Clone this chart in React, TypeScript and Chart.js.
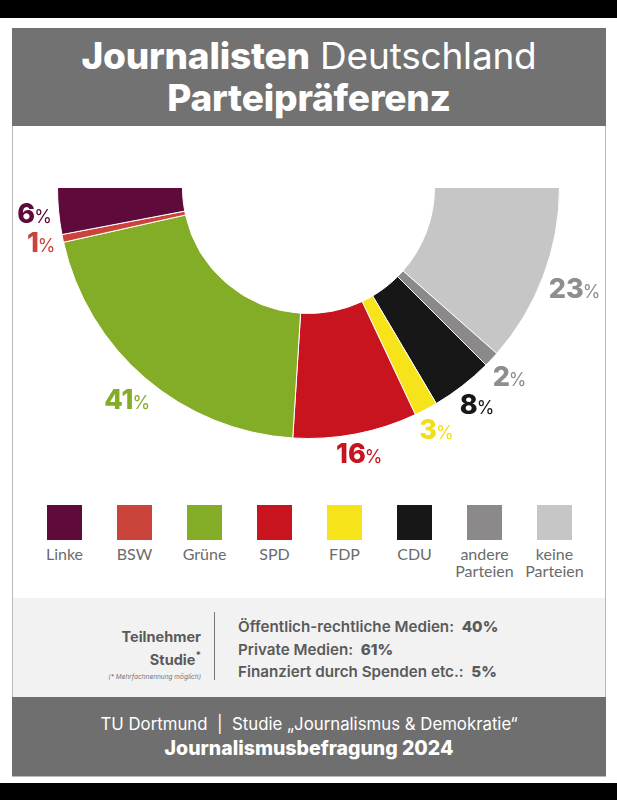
import React, { useEffect, useRef } from 'react';
import { Chart, registerables } from 'chart.js';

Chart.register(...registerables);

// ---------- data ----------
const categories = ['Linke', 'BSW', 'Grüne', 'SPD', 'FDP', 'CDU', 'andere Parteien', 'keine Parteien'];
const legendLines = [['Linke'], ['BSW'], ['Grüne'], ['SPD'], ['FDP'], ['CDU'], ['andere', 'Parteien'], ['keine', 'Parteien']];
const shares = [6, 1, 41, 16, 3, 8, 2, 23];
const sliceColors = ['#5e0a3b', '#cb443b', '#84ad27', '#c8141f', '#f6e31a', '#171717', '#8b8989', '#c6c6c6'];
const labelColors = ['#5e0a3b', '#cb443b', '#84ad27', '#c8141f', '#f2df18', '#171717', '#8e8e8e', '#8e8e8e'];
const studyLabels = ['Öffentlich-rechtliche Medien:', 'Private Medien:', 'Finanziert durch Spenden etc.:'];
const studyValues = [40, 61, 5];

// chart runs from the right (keine) clockwise through the bottom to the left (Linke)
const chartOrder = categories.map((_, i) => categories.length - 1 - i);

const BOLD = "'Inter', 'Noto Sans', sans-serif";
const LIGHT = "'Lato', 'Noto Sans', sans-serif";

const pctLabels = {
  id: 'pctLabels',
  afterDatasetsDraw(chart: any) {
    const ctx = chart.ctx;
    const meta = chart.getDatasetMeta(0);
    meta.data.forEach((arc: any, i: number) => {
      const idx = chartOrder[i];
      const p = arc.getProps(['x', 'y', 'startAngle', 'endAngle', 'outerRadius'], true);
      const mid = (p.startAngle + p.endAngle) / 2;
      const num = String(shares[idx]);
      ctx.save();
      ctx.font = `800 27px ${BOLD}`;
      const wn = ctx.measureText(num).width;
      ctx.font = `400 18px ${BOLD}`;
      const wp = ctx.measureText('%').width;
      const gap = -1;
      const w = wn + gap + wp;
      const h = 19;
      const c = Math.cos(mid);
      const s = Math.sin(mid);
      const r = p.outerRadius + 6 + Math.abs(c) * w / 2 + Math.abs(s) * h / 2;
      const cx = p.x + c * r;
      const cy = p.y + s * r;
      const bx = cx - w / 2;
      const by = cy + h / 2;
      ctx.fillStyle = labelColors[idx];
      ctx.textAlign = 'left';
      ctx.textBaseline = 'alphabetic';
      ctx.font = `800 27px ${BOLD}`;
      ctx.fillText(num, bx, by);
      ctx.font = `400 18px ${BOLD}`;
      ctx.fillText('%', bx + wn + gap, by);
      ctx.restore();
    });
  },
};

function HalfDonut() {
  const ref = useRef<HTMLCanvasElement | null>(null);
  useEffect(() => {
    if (!ref.current) return;
    const chart = new Chart(ref.current, {
      type: 'doughnut',
      data: {
        labels: chartOrder.map((i) => categories[i]),
        datasets: [
          {
            data: chartOrder.map((i) => shares[i]),
            backgroundColor: chartOrder.map((i) => sliceColors[i]),
            borderColor: '#ffffff',
            borderWidth: 1,
          },
        ],
      },
      options: {
        responsive: false,
        animation: false,
        rotation: 90,
        circumference: 180,
        radius: 251,
        cutout: '50.2%',
        layout: { padding: 0 },
        plugins: {
          legend: { display: false },
          tooltip: { enabled: false },
        },
        events: [],
      },
      plugins: [pctLabels],
    });
    return () => chart.destroy();
  }, []);
  return (
    <canvas
      ref={ref}
      width={617}
      height={340}
      style={{ position: 'absolute', left: 0, top: 143, width: 617, height: 340 }}
    />
  );
}

export default function App() {
  return (
    <div
      style={{
        position: 'absolute',
        left: 0,
        top: 0,
        width: 617,
        height: 800,
        background: '#ffffff',
        overflow: 'hidden',
      }}
    >
      {/* black bands */}
      <div style={{ position: 'absolute', left: 0, top: 0, width: 617, height: 18, background: '#000' }} />
      <div style={{ position: 'absolute', left: 0, top: 783, width: 617, height: 17, background: '#000' }} />

      {/* frame */}
      <div
        style={{
          position: 'absolute',
          left: 12,
          top: 28,
          width: 592,
          height: 747,
          border: '1px solid #b9b9b9',
          background: '#fff',
        }}
      />

      {/* header */}
      <div style={{ position: 'absolute', left: 12, top: 28, width: 594, height: 98, background: '#727272' }} />
      <div
        style={{
          position: 'absolute',
          left: 12,
          top: 35,
          width: 594,
          textAlign: 'center',
          color: '#fff',
          fontFamily: BOLD,
          fontSize: 37,
          lineHeight: '42px',
          letterSpacing: -0.2,
        }}
      >
        <div>
          <span style={{ fontWeight: 800 }}>Journalisten</span>
          <span style={{ fontWeight: 400 }}> Deutschland</span>
        </div>
        <div style={{ fontWeight: 800 }}>Parteipräferenz</div>
      </div>

      <HalfDonut />

      {/* legend */}
      <div style={{ position: 'absolute', left: 29.5, top: 505, display: 'flex' }}>
        {legendLines.map((lines, i) => (
          <div key={i} style={{ width: 70, display: 'flex', flexDirection: 'column', alignItems: 'center' }}>
            <div style={{ width: 35, height: 35, background: sliceColors[i] }} />
            <div
              style={{
                marginTop: 5,
                fontFamily: LIGHT,
                fontSize: 16,
                lineHeight: '17px',
                color: '#6b6b6b',
                textAlign: 'center',
                whiteSpace: 'nowrap',
              }}
            >
              {lines.map((l, k) => (
                <div key={k}>{l}</div>
              ))}
            </div>
          </div>
        ))}
      </div>

      {/* info box */}
      <div style={{ position: 'absolute', left: 13, top: 598, width: 592, height: 99, background: '#f2f2f2' }} />
      <div
        style={{
          position: 'absolute',
          left: 60,
          top: 627,
          width: 141,
          textAlign: 'right',
          fontFamily: BOLD,
          fontWeight: 700,
          fontSize: 14.5,
          lineHeight: '19px',
          color: '#5a5a5a',
        }}
      >
        <div>Teilnehmer</div>
        <div>
          Studie<span style={{ verticalAlign: 'super', fontSize: 10 }}>*</span>
        </div>
        <div style={{ fontSize: 6.5, fontWeight: 400, fontStyle: 'italic', lineHeight: '12px', marginTop: 2, color: '#777' }}>
          (* Mehrfachnennung möglich)
        </div>
      </div>
      <div style={{ position: 'absolute', left: 214, top: 612, width: 1, height: 68, background: '#777' }} />
      <div
        style={{
          position: 'absolute',
          left: 238,
          top: 616,
          fontFamily: BOLD,
          fontWeight: 600,
          fontSize: 15.2,
          lineHeight: '22.5px',
          color: '#5a5a5a',
          whiteSpace: 'pre',
        }}
      >
        {studyLabels.map((l, i) => (
          <div key={i}>
            {l}
            {'  '}
            <span style={{ fontWeight: 800 }}>{studyValues[i]}%</span>
          </div>
        ))}
      </div>

      {/* footer */}
      <div style={{ position: 'absolute', left: 12, top: 697, width: 594, height: 79, background: '#6f6f6f' }} />
      <div
        style={{
          position: 'absolute',
          left: 12,
          top: 712,
          width: 594,
          textAlign: 'center',
          color: '#fff',
          fontFamily: BOLD,
          lineHeight: '24px',
        }}
      >
        <div style={{ fontWeight: 400, fontSize: 16.8 }}>
          TU Dortmund&nbsp;&nbsp;|&nbsp;&nbsp;Studie „Journalismus &amp; Demokratie“
        </div>
        <div style={{ fontWeight: 800, fontSize: 19.5 }}>Journalismusbefragung 2024</div>
      </div>
    </div>
  );
}
